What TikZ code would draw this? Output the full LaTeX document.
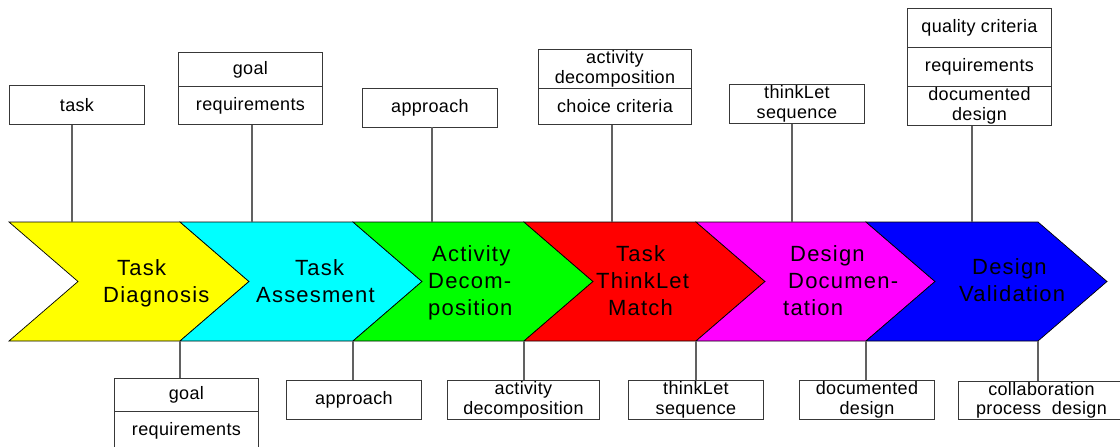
\documentclass[tikz,border=0pt]{standalone}
\usepackage{fontspec}
\newfontfamily\boxfont{Liberation Sans}[LetterSpace=2]
\newfontfamily\chevfont{Liberation Sans}[LetterSpace=5.5]
\definecolor{linecol}{gray}{0.38}
\definecolor{boxcol}{gray}{0.22}
\definecolor{cyellow}{RGB}{255,255,0}
\definecolor{ccyan}{RGB}{0,255,255}
\definecolor{cgreen}{RGB}{0,255,0}
\definecolor{cred}{RGB}{255,0,0}
\definecolor{cmagenta}{RGB}{255,0,255}
\definecolor{cblue}{RGB}{0,0,255}
\tikzset{
  boxst/.style={draw=boxcol, line width=0.9pt, inner sep=0pt, align=center,
    font=\boxfont\fontsize{18}{19.4}\selectfont, anchor=north west},
  chev/.style={draw=black, line width=0.7pt, line join=miter},
  ctext/.style={anchor=base west, inner sep=0pt, font=\chevfont\fontsize{22}{26}\selectfont},
  conn/.style={draw=linecol, line width=1.2pt}
}
\newcommand\mychevron[3]{%
  \filldraw[chev, fill=#3] (#1,222) -- (#2,222) -- ({#2+69},281.5) -- (#2,341) -- (#1,341) -- ({#1+69},281.5) -- cycle;}
\begin{document}
\begin{tikzpicture}[x=1pt,y=-1pt]
\useasboundingbox (0,0) rectangle (1120,447);
\clip (0,0) rectangle (1120,447);

% chevrons
\mychevron{9}{180}{cyellow}
\mychevron{180}{353}{ccyan}
\mychevron{353}{524}{cgreen}
\mychevron{524}{696}{cred}
\mychevron{696}{866}{cmagenta}
\mychevron{866}{1038}{cblue}

% connector end points on the chevron band
\coordinate (ct1) at (72,222);
\coordinate (ct2) at (252,222);
\coordinate (ct3) at (432,222);
\coordinate (ct4) at (612,222);
\coordinate (ct5) at (792,222);
\coordinate (ct6) at (972,222);
\coordinate (cb1) at (180,341);
\coordinate (cb2) at (353,341);
\coordinate (cb3) at (524,341);
\coordinate (cb4) at (696,341);
\coordinate (cb5) at (866,341);
\coordinate (cb6) at (1038,341);

% chevron texts
\node[ctext] (c1a) at (117,275) {Task};
\node[ctext] (c1b) at (103,302) {Diagnosis};
\node[ctext] (c2a) at (295,275) {Task};
\node[ctext] (c2b) at (256,302) {Assesment};
\node[ctext] (c3a) at (432,261.7) {Activity};
\node[ctext] (c3b) at (428,288.3) {Decom-};
\node[ctext] (c3c) at (428,315) {position};
\node[ctext] (c4a) at (616,261.7) {Task};
\node[ctext] (c4b) at (596,288.3) {ThinkLet};
\node[ctext] (c4c) at (608,315) {Match};
\node[ctext] (c5a) at (790,261.7) {Design};
\node[ctext] (c5b) at (788,288.3) {Documen-};
\node[ctext] (c5c) at (783,315) {tation};
\node[ctext] (c6a) at (972,274.3) {Design};
\node[ctext] (c6b) at (959,301) {Validation};

% top boxes
\node[boxst, minimum width=135pt, minimum height=39pt] (t1) at (9,85) {task};
\node[boxst, minimum width=144pt, minimum height=34pt] (t2a) at (178,52) {goal};
\node[boxst, minimum width=144pt, minimum height=38pt] (t2b) at (178,86) {requirements};
\node[boxst, minimum width=135pt, minimum height=39pt] (t3) at (362,87.5) {approach};
\node[boxst, minimum width=153pt, minimum height=39pt] (t4a) at (538,48.7) {activity\\decomposition};
\node[boxst, minimum width=153pt, minimum height=36.6pt] (t4b) at (538,87.7) {choice criteria};
\node[boxst, minimum width=135pt, minimum height=39pt] (t5) at (729,83.7) {thinkLet\\sequence};
\node[boxst, minimum width=144pt, minimum height=39pt] (t6a) at (907,8) {quality criteria};
\node[boxst, minimum width=144pt, minimum height=39pt] (t6b) at (907,47) {requirements};
\node[boxst, minimum width=144pt, minimum height=38.7pt] (t6c) at (907,86) {documented\\design};

% bottom boxes
\node[boxst, minimum width=144pt, minimum height=33pt] (b1a) at (114,378) {goal};
\node[boxst, minimum width=144pt, minimum height=38pt] (b1b) at (114,411) {requirements};
\node[boxst, minimum width=135pt, minimum height=39pt] (b2) at (286,380) {approach};
\node[boxst, minimum width=152pt, minimum height=39pt] (b3) at (447,380) {activity\\decomposition};
\node[boxst, minimum width=135pt, minimum height=39pt] (b4) at (628,380) {thinkLet\\sequence};
\node[boxst, minimum width=135pt, minimum height=39pt] (b5) at (799,380) {documented\\design};
\node[boxst, minimum width=166pt, minimum height=38.6pt] (b6) at (958,380.7) {collaboration\\process\ \ design};

% connectors
\draw[conn] (ct1 |- t1.south) -- (ct1);
\draw[conn] (ct2 |- t2b.south) -- (ct2);
\draw[conn] (ct3 |- t3.south) -- (ct3);
\draw[conn] (ct4 |- t4b.south) -- (ct4);
\draw[conn] (ct5 |- t5.south) -- (ct5);
\draw[conn] (ct6 |- t6c.south) -- (ct6);
\draw[conn] (cb1) -- (cb1 |- b1a.north);
\draw[conn] (cb2) -- (cb2 |- b2.north);
\draw[conn] (cb3) -- (cb3 |- b3.north);
\draw[conn] (cb4) -- (cb4 |- b4.north);
\draw[conn] (cb5) -- (cb5 |- b5.north);
\draw[conn] (cb6) -- (cb6 |- b6.north);
\end{tikzpicture}
\end{document}
